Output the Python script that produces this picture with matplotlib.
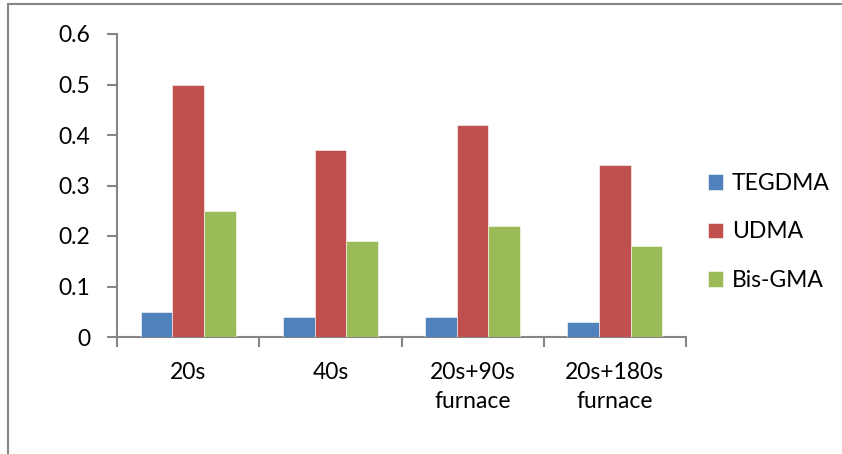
import numpy as np
import matplotlib
matplotlib.use("Agg")
import matplotlib.pyplot as plt
from matplotlib.patches import Rectangle

plt.rcParams['font.family'] = ['Lato', 'DejaVu Sans']

categories = ["20s", "40s", "20s+90s\nfurnace", "20s+180s\nfurnace"]
series_names = ["TEGDMA", "UDMA", "Bis-GMA"]
tegdma = [0.05, 0.04, 0.04, 0.03]
udma = [0.50, 0.37, 0.42, 0.34]
bisgma = [0.25, 0.19, 0.22, 0.18]
colors = ["#4F81BD", "#C0504D", "#9BBB59"]
yticks = [0, 0.1, 0.2, 0.3, 0.4, 0.5, 0.6]
ytick_labels = ["0", "0.1", "0.2", "0.3", "0.4", "0.5", "0.6"]

W, H = 842, 454
fig = plt.figure(figsize=(W / 100, H / 100), dpi=100)

# outer chart-area border (runs off the right and bottom edges)
fig.patches.append(Rectangle((8 / W, -0.05), 1.2, 1 - 4 / H + 0.05,
                             transform=fig.transFigure, fill=False,
                             edgecolor="#868686", linewidth=1.5))

ax = fig.add_axes([117 / W, 1 - 337 / H, (686 - 117) / W, (337 - 34) / H])

axis_gray = "#868686"
n = len(series_names)
bar_w = 1 / (n + 1.5)  # 150% gap width
x = np.arange(len(categories))
for i, (vals, c, name) in enumerate(zip([tegdma, udma, bisgma], colors, series_names)):
    ax.bar(x - bar_w * (n - 1) / 2 + i * bar_w, vals, width=bar_w, color=c,
           label=name, edgecolor="white", linewidth=0.4, zorder=3)

ax.set_xlim(-0.5, len(categories) - 0.5)
ax.set_ylim(0, 0.6)
ax.set_yticks(yticks)
ax.set_yticklabels(ytick_labels)
ax.set_xticks(np.arange(len(categories) + 1) - 0.5, minor=False)
ax.set_xticklabels([])
ax.set_xticks(x, minor=True)
ax.set_xticklabels(categories, minor=True, linespacing=1.5)
ax.tick_params(axis="x", which="minor", length=0, pad=18, labelsize=16.5)
ax.tick_params(axis="x", which="major", length=7, width=1.5, color=axis_gray)
ax.tick_params(axis="y", length=7, width=1.5, color=axis_gray, pad=12, labelsize=16.5)

for s in ["top", "right"]:
    ax.spines[s].set_visible(False)
for s in ["left", "bottom"]:
    ax.spines[s].set_color(axis_gray)
    ax.spines[s].set_linewidth(1.5)

leg = fig.legend(loc="upper left", bbox_to_anchor=(708 / W, 1 - 173 / H),
                 frameon=False, fontsize=16.5, handlelength=0.65, handleheight=0.65,
                 handletextpad=0.4, labelspacing=1.2, borderpad=0, borderaxespad=0)

fig.savefig("out.png", dpi=100)
